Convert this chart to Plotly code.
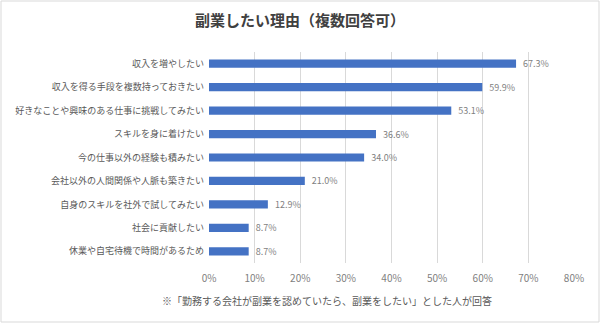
import plotly.graph_objects as go

categories = [
    "収入を増やしたい",
    "収入を得る手段を複数持っておきたい",
    "好きなことや興味のある仕事に挑戦してみたい",
    "スキルを身に着けたい",
    "今の仕事以外の経験も積みたい",
    "会社以外の人間関係や人脈も築きたい",
    "自身のスキルを社外で試してみたい",
    "社会に貢献したい",
    "休業や自宅待機で時間があるため",
]
values = [67.3, 59.9, 53.1, 36.6, 34.0, 21.0, 12.9, 8.7, 8.7]
tick_vals = [0, 10, 20, 30, 40, 50, 60, 70, 80]
tick_text = [f"{v}%" for v in tick_vals]

FONT = "Noto Sans CJK JP"
PW, PH = 365, 211

fig = go.Figure(go.Bar(
    x=values, y=categories, orientation="h",
    marker=dict(color="#4472C4", line=dict(width=0)),
    texttemplate="  %{x:.1f}%", textposition="outside",
    constraintext="none",
    textfont=dict(size=9, color="#7f7f7f", family=FONT),
    cliponaxis=False, width=0.35,
))

fig.update_layout(
    width=600, height=323,
    margin=dict(l=209, r=26, t=52, b=60),
    paper_bgcolor="white", plot_bgcolor="white",
    font=dict(family=FONT, color="#595959"),
    showlegend=False,
    title=dict(text="<b>副業したい理由（複数回答可）</b>", x=0.5, xanchor="center",
               y=0.935, yanchor="middle",
               font=dict(size=15, color="#404040", family=FONT)),
    xaxis=dict(range=[0, 80], tickvals=tick_vals, ticktext=tick_text,
               showgrid=True, gridcolor="#d9d9d9", gridwidth=1,
               zeroline=False, showline=False, ticklabelstandoff=8,
               tickfont=dict(size=10, color="#7f7f7f", family=FONT)),
    yaxis=dict(autorange="reversed", showgrid=False, showline=False,
               ticklabelstandoff=4,
               tickfont=dict(size=9, color="#595959", family=FONT)),
    shapes=[dict(type="rect", xref="paper", yref="paper",
                 x0=-208/PW, x1=1 + 25/PW,
                 y0=-59/PH, y1=1 + 51/PH, line=dict(color="#d9d9d9", width=1))],
    annotations=[dict(text="※「勤務する会社が副業を認めていたら、副業をしたい」とした人が回答",
                      xref="paper", yref="paper", x=(327-209)/PW, y=-(300-263)/PH,
                      xanchor="center", yanchor="middle", showarrow=False,
                      font=dict(size=10, color="#595959", family=FONT))],
)

fig.write_html("out.html")
